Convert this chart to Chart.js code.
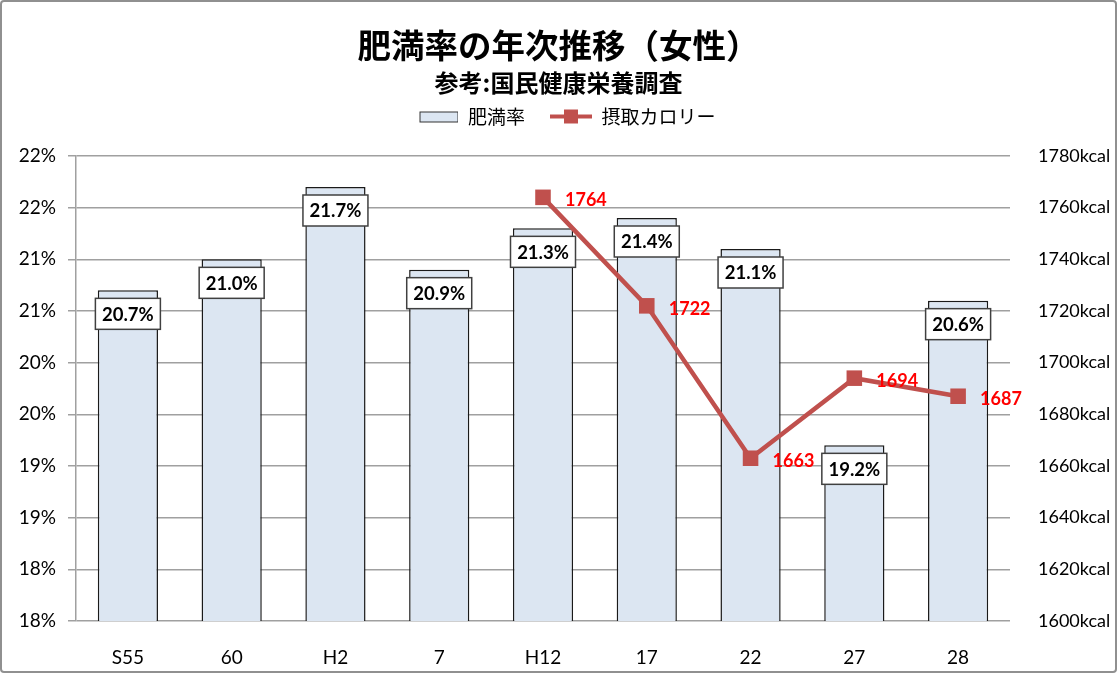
<!DOCTYPE html>
<html lang="ja">
<head>
<meta charset="utf-8">
<title>肥満率の年次推移（女性）</title>
<script src="https://cdn.jsdelivr.net/npm/chart.js@4.4.1/dist/chart.umd.min.js"></script>
<style>
    html, body { margin: 0; padding: 0; background: #fff; }
    #wrap { position: relative; width: 1117px; height: 673px; }
    #wrap canvas { position: absolute; left: 0; top: 0; }
    #frame {
        position: absolute; left: 0; top: 0; width: 1117px; height: 673px;
        box-sizing: border-box; border: 2px solid #909090; border-radius: 4px;
        pointer-events: none;
    }
</style>
</head>
<body>
<div id="wrap">
    <canvas id="chart" width="1117" height="673"></canvas>
    <div id="frame"></div>
</div>
<script>
// chart values
const categories = ['S55', '60', 'H2', '7', 'H12', '17', '22', '27', '28'];
const obesityRates = [20.7, 21.0, 21.7, 20.9, 21.3, 21.4, 21.1, 19.2, 20.6];
const calories = [null, null, null, null, 1764, 1722, 1663, 1694, 1687];
// left axis runs 17.5% .. 22.0% in 0.5 steps, Excel shows them rounded
const rateTickLabels = ['18%', '18%', '19%', '19%', '20%', '20%', '21%', '21%', '22%', '22%'];

const cjkFont = '"Noto Sans CJK JP", "Noto Sans", sans-serif';
const numFont = 'Lato, "Open Sans", sans-serif';
const barFill = '#DCE6F2';
const lineRed = '#C0504D';

Chart.defaults.font.family = numFont;
Chart.defaults.color = '#000';

/**
 * Legend icons. Both are drawn at the right of a 57px wide canvas so the
 * gap in front of each legend item looks like the original.
 */
function barIcon() {
    const c = document.createElement('canvas');
    c.width = 57; c.height = 16;
    const g = c.getContext('2d');
    g.fillStyle = barFill;
    g.fillRect(18.5, 3.5, 38, 10);
    g.strokeStyle = '#333';
    g.lineWidth = 1;
    g.strokeRect(18.5, 3.5, 38, 10);
    return c;
}

function lineIcon() {
    const c = document.createElement('canvas');
    c.width = 57; c.height = 16;
    const g = c.getContext('2d');
    g.strokeStyle = lineRed;
    g.lineWidth = 4;
    g.beginPath();
    g.moveTo(15, 8);
    g.lineTo(57, 8);
    g.stroke();
    g.fillStyle = lineRed;
    g.fillRect(29, 1, 14, 14);
    return c;
}

// extra space between the legend and the plot
const legendGap = {
    id: 'legendGap',
    beforeInit(chart) {
        Chart.layouts.addBox(chart, {
            position: 'top',
            weight: 900,
            fullSize: true,
            options: {},
            isHorizontal() { return true; },
            update(maxWidth) { this.width = maxWidth; this.height = 20; },
            draw() {}
        });
    }
};

// boxed percentage labels on the bars, red numbers beside the points
const valueLabels = {
    id: 'valueLabels',
    afterDatasetsDraw(chart) {
        const ctx = chart.ctx;
        ctx.save();

        const bars = chart.getDatasetMeta(0).data;
        ctx.font = 'bold 18.5px ' + numFont;
        ctx.textAlign = 'center';
        ctx.textBaseline = 'middle';
        bars.forEach((bar, i) => {
            const w = 65, h = 31;
            const top = bar.y + 8;
            ctx.fillStyle = '#fff';
            ctx.fillRect(bar.x - w / 2, top, w, h);
            ctx.strokeStyle = '#404040';
            ctx.lineWidth = 1.5;
            ctx.strokeRect(bar.x - w / 2, top, w, h);
            ctx.fillStyle = '#000';
            ctx.fillText(obesityRates[i].toFixed(1) + '%', bar.x, top + h / 2 + 1);
        });

        const points = chart.getDatasetMeta(1).data;
        ctx.font = 'bold 18px ' + numFont;
        ctx.textAlign = 'left';
        ctx.fillStyle = '#FF0000';
        points.forEach((pt, i) => {
            if (calories[i] === null) return;
            ctx.fillText(String(calories[i]), pt.x + 22, pt.y + 3);
        });

        ctx.restore();
    }
};

const legendIcons = [barIcon(), lineIcon()];

new Chart(document.getElementById('chart'), {
    type: 'bar',
    data: {
        labels: categories,
        datasets: [{
            type: 'bar',
            label: '肥満率',
            data: obesityRates,
            yAxisID: 'y',
            backgroundColor: barFill,
            borderColor: '#1a1a1a',
            borderWidth: 1.5,
            barPercentage: 0.58,
            categoryPercentage: 1.0,
            order: 2
        }, {
            type: 'line',
            label: '摂取カロリー',
            data: calories,
            yAxisID: 'y1',
            borderColor: lineRed,
            borderWidth: 4.5,
            pointStyle: 'rect',
            pointRadius: 11,
            pointHoverRadius: 11,
            pointBackgroundColor: lineRed,
            pointBorderWidth: 0,
            tension: 0,
            order: 1
        }]
    },
    options: {
        responsive: false,
        animation: false,
        events: [],
        layout: { padding: 0 },
        scales: {
            x: {
                grid: { display: false },
                border: { display: false },
                ticks: {
                    color: '#000',
                    font: { size: 19 },
                    padding: 17.5,
                    maxRotation: 0
                },
                afterFit: scale => { scale.height = 52; }
            },
            y: {
                position: 'left',
                min: 17.5,
                max: 22,
                ticks: {
                    stepSize: 0.5,
                    color: '#000',
                    font: { size: 19 },
                    padding: 12,
                    callback: (value, index) => rateTickLabels[index]
                },
                grid: { color: '#a0a0a0', lineWidth: 1.5, tickLength: 8 },
                border: { display: true, color: '#a0a0a0', width: 1.5 },
                afterFit: scale => { scale.width = 76; }
            },
            y1: {
                position: 'right',
                min: 1600,
                max: 1780,
                ticks: {
                    stepSize: 20,
                    color: '#000',
                    font: { size: 18 },
                    padding: 20,
                    callback: value => value + 'kcal'
                },
                grid: { display: false },
                border: { display: false },
                afterFit: scale => { scale.width = 107; }
            }
        },
        plugins: {
            title: {
                display: true,
                text: '肥満率の年次推移（女性）',
                color: '#000',
                font: { family: cjkFont, size: 33.5, weight: 'bold', lineHeight: 1.2 },
                padding: { top: 25, bottom: 0 }
            },
            subtitle: {
                display: true,
                text: '参考:国民健康栄養調査',
                color: '#000',
                font: { family: cjkFont, size: 24, weight: 'bold', lineHeight: 1.2 },
                padding: { top: 3, bottom: 0 }
            },
            legend: {
                display: true,
                position: 'top',
                labels: {
                    color: '#000',
                    font: { family: cjkFont, size: 19 },
                    usePointStyle: true,
                    pointStyleWidth: 57,
                    padding: 10,
                    generateLabels: chart => chart.data.datasets.map((ds, i) => ({
                        text: ds.label,
                        pointStyle: legendIcons[i],
                        fillStyle: 'transparent',
                        strokeStyle: 'transparent',
                        lineWidth: 0,
                        hidden: false,
                        datasetIndex: i
                    }))
                }
            },
            tooltip: { enabled: false }
        }
    },
    plugins: [legendGap, valueLabels]
});
</script>
</body>
</html>
